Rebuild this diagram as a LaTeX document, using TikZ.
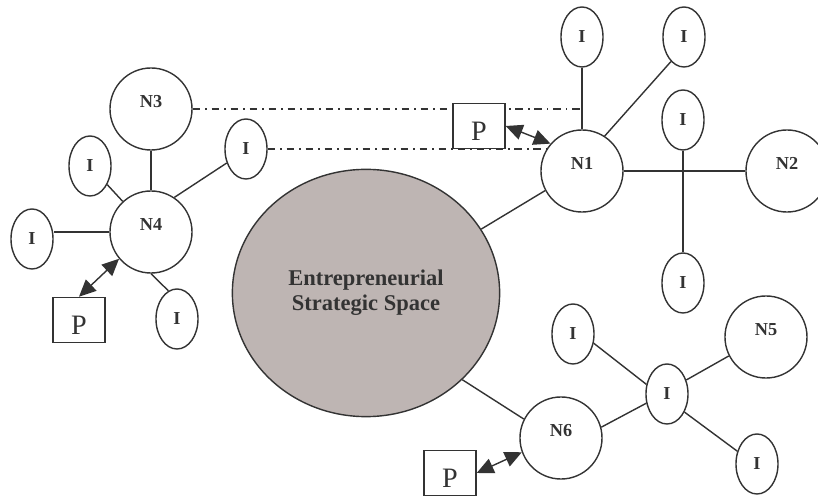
\documentclass[tikz,border=0pt]{standalone}
\usepackage{fontspec}
\setmainfont{Liberation Serif}
\usetikzlibrary{shapes.geometric,arrows.meta,backgrounds}

\definecolor{ink}{HTML}{333333}
\definecolor{spacefill}{HTML}{BEB5B3}

\tikzset{
  netnode/.style={circle, draw=ink, fill=white, minimum size=2.05cm, inner sep=0pt,
    font=\fontsize{13}{15}\selectfont\bfseries, text=ink, text height=9pt, text depth=11.8pt},
  intell/.style={ellipse, draw=ink, fill=white, minimum width=1.05cm, minimum height=1.5cm,
    inner sep=0pt, font=\fontsize{13}{15}\selectfont\bfseries, text=ink},
  pbox/.style={rectangle, draw=ink, fill=white, minimum width=1.3cm, minimum height=1.13cm,
    inner sep=0pt, font=\fontsize{20}{20}\selectfont, text=ink, text height=20pt, text depth=0pt},
  space/.style={ellipse, draw=ink, fill=spacefill, minimum width=6.68cm, minimum height=6.18cm,
    align=center, font=\fontsize{16}{17.7}\selectfont\bfseries, text=ink},
  link/.style={draw=ink},
  tie/.style={draw=ink, dash pattern=on 5.5pt off 3.5pt on 1pt off 3.5pt},
  partner/.style={draw=ink, {Triangle[length=12pt,width=11pt]}-{Triangle[length=12pt,width=11pt]}}
}

\begin{document}
\begin{tikzpicture}[x=0.025cm, y=-0.025cm, line width=1pt]
  \useasboundingbox (0,0) rectangle (818,497);

  % the strategic space
  \node[space] (ess) at (366,293) {Entrepreneurial\\Strategic Space};

  % left group around N4
  \node[netnode] (n3) at (151,109) {N3};
  \node[netnode] (n4) at (151,232) {N4};
  \node[intell] (i4a) at (32,239) {I};
  \node[intell] (i4b) at (90,166) {I};
  \node[intell] (i4c) at (246,149) {I};
  \node[intell] (i4d) at (177,319) {I};
  \node[pbox] (p4) at (79,320) {P};

  % upper right group around N1
  \node[netnode] (n1) at (582,171) {N1};
  \node[netnode] (n2) at (787,171) {N2};
  \node[intell] (i1a) at (582,37) {I};
  \node[intell] (i1b) at (684,37) {I};
  \node[intell] (i1c) at (683,120) {I};
  \node[intell] (i1d) at (683,283) {I};
  \node[pbox] (p1) at (479,126) {P};

  % lower right group around N6
  \node[netnode] (n6) at (561,438) {N6};
  \node[netnode] (n5) at (766,337) {N5};
  \node[intell] (i6a) at (573,334) {I};
  \node[intell] (i6c) at (667,394) {I};
  \node[intell] (i6d) at (757,464) {I};
  \node[pbox] (p6) at (450,473) {P};

  \begin{scope}[on background layer]
    \draw[tie, line width=0.9pt] (n3.east) -- (n3.east -| n1.north);
    \draw[tie, line width=0.9pt] (i4c.east) -- (i4c.east -| n1.149);
  \end{scope}

  \draw[link] (n3) -- (n4);
  \draw[link] (n4) -- (i4b);
  \draw[link] (n4.west) -- (n4.west -| i4a.east);
  \draw[link] (n4.56) -- (i4c.216);
  \draw[link] (n4.south) -- (i4d.107);
  \draw[partner] (p4.north) -- (n4.220);

  \draw[link] (i1a) -- (n1);
  \draw[link] (n1.57) -- (i1b.242);
  \draw[link] (n1) -- (n2);
  \draw[link] (i1c) -- (i1d);
  \draw[link] (n1.208) -- (ess.29);
  \draw[partner] (p1.east) -- (n1.139);

  \draw[link] (n6.153) -- (ess.318);
  \draw[link] (n6.15) -- (i6c.204);
  \draw[link] (i6c.155) -- (i6a.336);
  \draw[link] (i6c.36) -- (n5.207);
  \draw[link] (i6c.314) -- (i6d.147);
  \draw[partner] (p6.east) -- (n6.200);
\end{tikzpicture}
\end{document}
